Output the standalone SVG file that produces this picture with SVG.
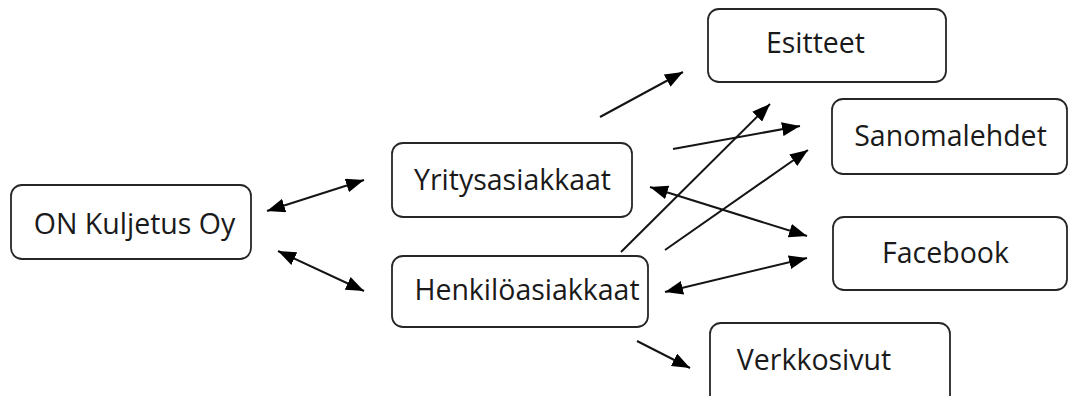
<svg xmlns="http://www.w3.org/2000/svg" width="1069" height="396" viewBox="0 0 1069 396">
  <style>
    .box { fill: #ffffff; stroke: #262626; stroke-width: 1.8; }
    .label { font-family: "Open Sans", "Liberation Sans", sans-serif; font-size: 28.5px; fill: #1a1a1a; text-anchor: middle; }
    .link { stroke: #141414; stroke-width: 2; fill: none; }
    .one { marker-end: url(#head); }
    .two { marker-start: url(#head); marker-end: url(#head); }
  </style>
  <defs>
    <marker id="head" viewBox="0 0 18 14" refX="18" refY="7" markerWidth="18" markerHeight="14" markerUnits="userSpaceOnUse" orient="auto-start-reverse">
      <path d="M0,0 L18,7 L0,14 z" fill="#000000"/>
    </marker>
  </defs>
  <rect width="1069" height="396" fill="#ffffff"/>

  <g id="node-on-kuljetus">
    <rect class="box" x="11" y="185" width="240" height="74" rx="11"/>
    <text class="label" x="134.5" y="234">ON Kuljetus Oy</text>
  </g>
  <g id="node-yritysasiakkaat">
    <rect class="box" x="392" y="143" width="240" height="74" rx="11"/>
    <text class="label" x="512.5" y="190">Yritysasiakkaat</text>
  </g>
  <g id="node-henkiloasiakkaat">
    <rect class="box" x="392" y="256" width="256" height="71" rx="11"/>
    <text class="label" x="527" y="300">Henkilöasiakkaat</text>
  </g>
  <g id="node-esitteet">
    <rect class="box" x="708" y="9" width="238" height="73" rx="11"/>
    <text class="label" x="815.5" y="53">Esitteet</text>
  </g>
  <g id="node-sanomalehdet">
    <rect class="box" x="832" y="99" width="235" height="75" rx="11"/>
    <text class="label" x="950.5" y="146">Sanomalehdet</text>
  </g>
  <g id="node-facebook">
    <rect class="box" x="833" y="217" width="234" height="73" rx="11"/>
    <text class="label" x="945.5" y="263">Facebook</text>
  </g>
  <g id="node-verkkosivut">
    <rect class="box" x="710" y="323" width="240" height="90" rx="11"/>
    <text class="label" x="814" y="370">Verkkosivut</text>
  </g>

  <g id="connectors">
    <line class="link two" x1="267" y1="211" x2="364" y2="180"/>
    <line class="link two" x1="278" y1="251" x2="364" y2="291"/>
    <line class="link one" x1="600" y1="117" x2="683" y2="72"/>
    <line class="link one" x1="673" y1="149" x2="800" y2="126"/>
    <line class="link one" x1="621" y1="252" x2="770" y2="104"/>
    <line class="link one" x1="665" y1="250" x2="808" y2="150"/>
    <line class="link two" x1="650" y1="187" x2="807" y2="236"/>
    <line class="link two" x1="665" y1="292" x2="807" y2="258"/>
    <line class="link one" x1="637" y1="341" x2="690" y2="368"/>
  </g>
</svg>
